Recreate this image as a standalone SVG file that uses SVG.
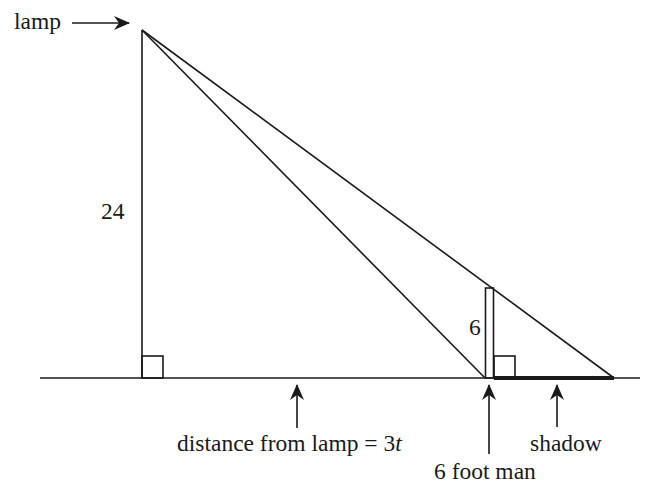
<svg xmlns="http://www.w3.org/2000/svg" width="649" height="485" viewBox="0 0 649 485">
<style>
.ln{stroke:#1a1a1a;stroke-width:1.6;fill:none}
.t{font-family:"Liberation Serif","Times New Roman","DejaVu Serif",serif;font-size:23.5px;fill:#1a1a1a}
.ah{fill:#1a1a1a}
</style>
<defs>
<marker id="arr" viewBox="0 0 16 14" refX="15" refY="7" markerWidth="16" markerHeight="14" markerUnits="userSpaceOnUse" orient="auto">
<path d="M0,0 L16,7 L0,14 L5,7 Z" class="ah"/>
</marker>
</defs>
<rect width="649" height="485" fill="#fff"/>
<g id="ground"><line class="ln" x1="40" y1="378" x2="640" y2="378"/></g>
<g id="lamp-post">
<line class="ln" x1="142" y1="30" x2="142" y2="378"/>
<rect class="ln" x="142" y="356" width="21" height="22"/>
</g>
<g id="man">
<rect class="ln" x="485.5" y="288" width="8" height="90"/>
<rect class="ln" x="494" y="356" width="21" height="22"/>
</g>
<g id="shadow"><line x1="494" y1="378" x2="614" y2="378" stroke="#1a1a1a" stroke-width="4"/></g>
<g id="connectors">
<line class="ln" x1="72" y1="23" x2="129" y2="23" marker-end="url(#arr)"/>
<line class="ln" x1="297" y1="428" x2="297" y2="385" marker-end="url(#arr)"/>
<line class="ln" x1="489" y1="454" x2="489" y2="385" marker-end="url(#arr)"/>
<line class="ln" x1="557" y1="427" x2="557" y2="385" marker-end="url(#arr)"/>
<line class="ln" x1="142" y1="30" x2="485" y2="378"/>
<line class="ln" x1="142" y1="30" x2="614" y2="378"/>
</g>
<g id="labels">
<text class="t" x="14" y="29">lamp</text>
<text class="t" x="101" y="219">24</text>
<text class="t" x="469" y="335">6</text>
<text class="t" x="177" y="451">distance from lamp = 3<tspan font-style="italic">t</tspan></text>
<text class="t" x="530" y="451">shadow</text>
<text class="t" x="434" y="479">6 foot man</text>
</g>
</svg>
